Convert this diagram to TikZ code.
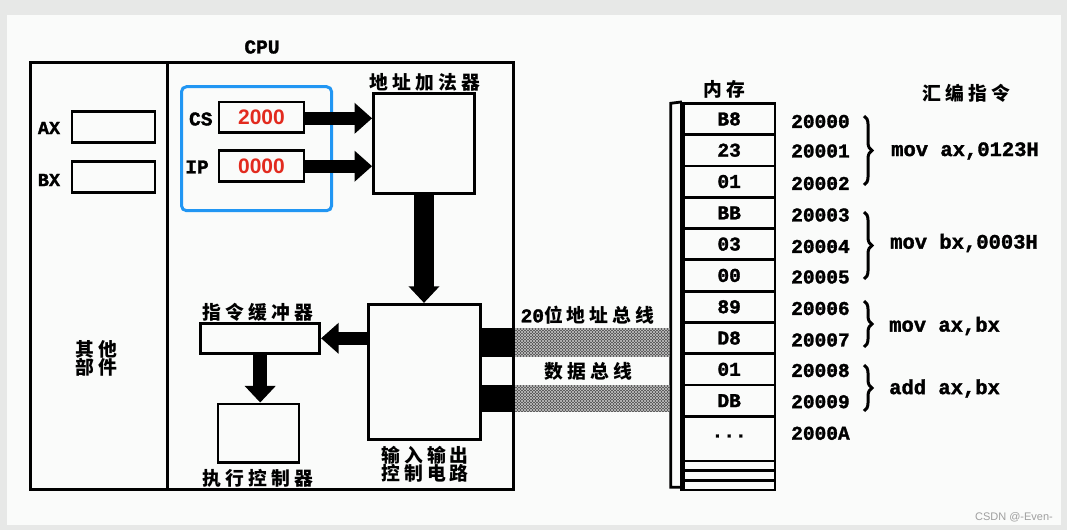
\documentclass[tikz,border=0pt]{standalone}
\usepackage{fontspec}
\setmainfont{Liberation Serif}
\newfontfamily\monofam[BoldFeatures={FakeBold=1.6}]{Liberation Mono}
\newfontfamily\cjkfam[LetterSpace=22]{Noto Sans CJK SC}
\newfontfamily\sansfam{Liberation Sans}
\usetikzlibrary{arrows.meta,patterns,decorations.pathreplacing}
\newcommand{\myLat}{\monofam\bfseries\fontsize{19.5pt}{20pt}\selectfont}
\newcommand{\myIns}{\monofam\bfseries\fontsize{20.5pt}{21pt}\selectfont}
\newcommand{\myZh}{\cjkfam\bfseries\fontsize{18.8pt}{21pt}\selectfont}
\newcommand{\myRed}{\sansfam\bfseries\fontsize{21pt}{22pt}\selectfont}
\definecolor{bgout}{HTML}{E7E8E7}
\definecolor{panel}{HTML}{FAFBFA}
\definecolor{selblue}{HTML}{2196F3}
\definecolor{regred}{HTML}{E22A1E}
\definecolor{busgray}{HTML}{4A4A4A}
\definecolor{buslight}{HTML}{C4C4C4}
\tikzset{
  box/.style={draw=black, line width=2.8pt, inner sep=0pt},
  cell/.style={draw=black, line width=2.8pt, inner sep=0pt, minimum width=91.5pt, minimum height=31.3pt, font=\myLat},
  lbl/.style={inner sep=0pt, font=\myLat},
  zh/.style={inner sep=0pt, font=\myZh, align=center},
  ins/.style={inner sep=0pt, anchor=west, font=\myIns},
  addr/.style={inner sep=0pt, anchor=west, font=\myLat},
  blockarrow/.style={line width=13.3pt, -{Triangle[width=30pt,length=17.6pt]}},
  widearrow/.style={line width=20.5pt, -{Triangle[width=30pt,length=16.6pt]}},
  brc/.style={line width=3pt, decorate, decoration={brace, amplitude=8pt}},
}
\begin{document}
\begin{tikzpicture}[x=1pt,y=-1pt]
\useasboundingbox (0,0) rectangle (1067,530);
\fill[bgout] (0,0) rectangle (1067,530);
\fill[panel] (7,15) rectangle (1061,525);

% CPU frame
\node[box, minimum width=483.5pt, minimum height=427pt] (cpu) at (272,275.8) {};
\node[lbl] (cpulbl) at (262,47) {CPU};
\coordinate (divtop) at (167.7,62.3);
\coordinate (divbot) at (167.7,489.3);
\draw[line width=2.8pt] (divtop) -- (divbot);

% other parts
\node[box, minimum width=83pt, minimum height=31pt] (ax) at (113.5,127.2) {};
\node[lbl, font=\monofam\bfseries\fontsize{18.5pt}{19pt}\selectfont] (axl) at (49,128) {AX};
\node[box, minimum width=83pt, minimum height=31pt] (bx) at (113.5,177.2) {};
\node[lbl, font=\monofam\bfseries\fontsize{18.5pt}{19pt}\selectfont] (bxl) at (49,180) {BX};
\node[zh] (other) at (96.4,358.5) {其他\\[-3pt]部件};

% CS / IP
\draw[selblue, line width=3pt, rounded corners=5pt] (181.5,86.7) rectangle (331.6,210.7);
\node[box, minimum width=85pt, minimum height=30.7pt, font=\myRed, text=regred] (cs) at (261.5,117.3) {2000};
\node[lbl] (csl) at (200.8,119) {CS};
\node[box, minimum width=85pt, minimum height=31pt, font=\myRed, text=regred] (ip) at (261.5,166.2) {0000};
\node[lbl] (ipl) at (197,167) {IP};

% address adder
\node[box, minimum width=101pt, minimum height=100pt] (adder) at (424,143.3) {};
\node[zh] (adderl) at (425,82) {地址加法器};

% IO control
\node[box, minimum width=112pt, minimum height=135pt] (io) at (424.5,371.8) {};
\node[zh] (iol) at (425,464) {输入输出\\[-3pt]控制电路};

% buffer and exec
\node[box, minimum width=119pt, minimum height=30pt] (buf) at (260.2,338.3) {};
\node[zh] (bufl) at (258,312) {指令缓冲器};
\node[box, minimum width=81pt, minimum height=58.7pt] (exec) at (258.5,433.3) {};
\node[zh] (execl) at (258,478) {执行控制器};

% arrows
\draw[blockarrow] (cs.east |- 0,118.3) -- (adder.west |- 0,118.3);
\draw[blockarrow] (ip.east |- 0,166.2) -- (adder.west |- 0,166.2);
\draw[widearrow] (adder.south) -- (adder.south |- io.north);
\draw[blockarrow] (buf.east -| io.west) -- (buf.east);
\draw[line width=14pt, -{Triangle[width=30pt,length=16.6pt]}] (buf.south) -- (buf.south |- exec.north);

% memory
\node[zh] (meml) at (724,89) {内存};
\node[zh] (asml) at (966.5,93.3) {汇编指令};
\foreach \t [count=\i from 0] in {B8,23,01,BB,03,00,89,D8,01,DB} {
  \node[cell] (m\i) at (729.15,{103.3+31.3*\i+15.65}) {\t};
}
\node[cell, minimum height=44.7pt] (m10) at (729.15,438.65) {};
\node[lbl] (dots) at (729.15,436) {...};
\node[cell, minimum height=9.7pt] (m11) at (729.15,465.85) {};
\node[cell, minimum height=9.6pt] (m12) at (729.15,475.5) {};
\node[cell, minimum height=9.7pt] (m13) at (729.15,485.15) {};
\draw[line width=2.8pt] (m0.north west) -- (670.7,103.3) -- (670.7,487.3) -- (683.4,487.3);
\draw[line width=5pt] (m0.north west) -- (m13.south west);

% buses
\fill[black] (io.east |- 0,328.3) rectangle (cpu.east |- 0,356.7);
\fill[black] (io.east |- 0,385) rectangle (cpu.east |- 0,411.7);
\foreach \ya/\yb in {328.3/356.7, 385/411.7} {
  \fill[busgray] (cpu.east |- 0,\ya) rectangle (669.3,\yb);
  \fill[pattern=north east lines, pattern color=buslight] (cpu.east |- 0,\ya) rectangle (669.3,\yb);
  \fill[pattern=north west lines, pattern color=buslight] (cpu.east |- 0,\ya) rectangle (669.3,\yb);
}
\node[zh] (abus) at (587.6,315) {{\myLat 20}位地址总线};
\node[zh] (dbus) at (588.6,371.7) {数据总线};

% addresses
\foreach \a/\y in {20000/121.5, 20001/151, 20002/183.5, 20003/215, 20004/246.5, 20005/277, 20006/308.5, 20007/340, 20008/370.5, 20009/401.7, 2000A/433.3} {
  \node[addr] at (791,\y) {\a};
}

% braces and instructions
\draw[brc] (864,116) -- (864,185);
\draw[brc] (864,212) -- (864,279);
\draw[brc] (864,301) -- (864,347);
\draw[brc] (864,365) -- (864,411);
\node[ins] (i1) at (891,151) {mov ax,0123H};
\node[ins] (i2) at (890,243) {mov bx,0003H};
\node[ins] (i3) at (889,326) {mov ax,bx};
\node[ins] (i4) at (889,388.5) {add ax,bx};

\node[inner sep=0pt, text=gray!75, font=\sansfam\fontsize{11pt}{12pt}\selectfont] (wm) at (1014,517) {CSDN @-Even-};
\end{tikzpicture}
\end{document}
